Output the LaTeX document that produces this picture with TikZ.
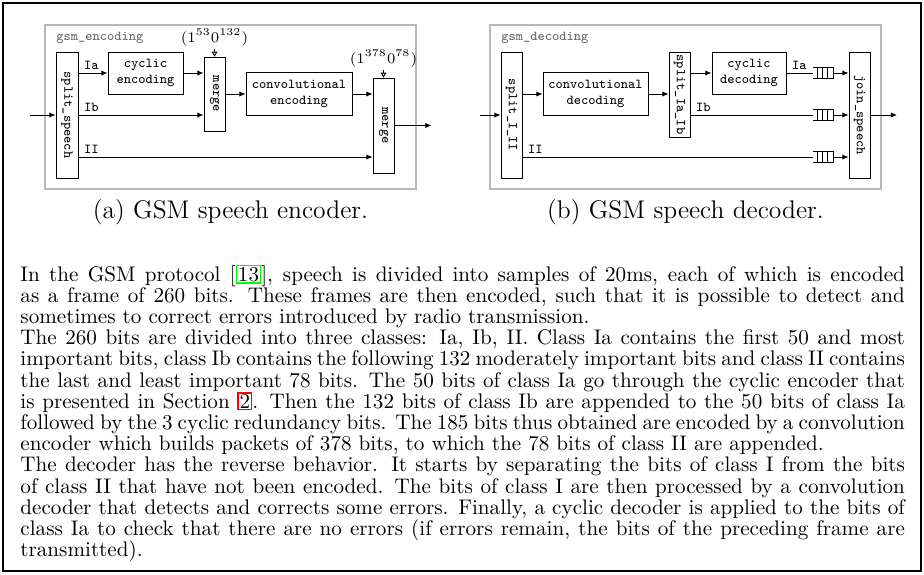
\documentclass[tikz,border=0pt]{standalone}
\usepackage{xcolor}
\usepackage{graphicx}
\usepackage{tikz}
\usetikzlibrary{calc,arrows.meta}

\newcommand\pxu{0.4545pt}
\newcommand\linkfr[2]{{\fboxsep=0.3pt\fboxrule=0.7pt\fcolorbox{#1}{white}{#2}}}

\tikzset{
  blk/.style={draw, inner sep=1pt, align=center, font=\fontsize{6.2}{7.4}\ttfamily},
  flow/.style={-{Latex[length=2.8pt,width=2.4pt]}},
  hint/.style={-{Triangle[open,length=2.2pt,width=2.6pt]}},
  lbl/.style={above right, inner sep=1.2pt, xshift=1.2pt, font=\fontsize{6.2}{7.4}\ttfamily},
  ann/.style={inner sep=1pt, font=\fontsize{6.7}{8}\selectfont},
  frm/.style={draw=black!28, line width=0.5pt, inner sep=0pt},
  frmlbl/.style={anchor=west, inner sep=0pt, text=black!60, font=\fontsize{6.2}{7.4}\ttfamily},
  subcap/.style={anchor=base, inner sep=0pt, font=\fontsize{11.6}{13.5}\selectfont},
  queue/.style={minimum width=20*\pxu, minimum height=10*\pxu, inner sep=0pt},
}

\begin{document}
\begin{tikzpicture}[x=\pxu,y=-\pxu]
  \useasboundingbox (0,0) rectangle (924,574);
  \draw[line width=1.1pt] (3,3) rectangle (921,571);

  % (a) encoder
  \node[frm, minimum width=371*\pxu, minimum height=164*\pxu] (frA) at (230.5,107) {};
  \node[frmlbl] (lblA) at (56,38) {gsm\_encoding};
  \node[blk, minimum width=22*\pxu, minimum height=126*\pxu] (splitS) at (67,115) {\rotatebox{-90}{split\_speech}};
  \node[blk, minimum width=75*\pxu, minimum height=42*\pxu] (cycE) at (145.5,73) {cyclic\\encoding};
  \node[blk, minimum width=21*\pxu, minimum height=74*\pxu] (merA) at (214.5,94) {\rotatebox{-90}{merge}};
  \node[blk, minimum width=106*\pxu, minimum height=43*\pxu] (convE) at (299,94) {convolutional\\encoding};
  \node[blk, minimum width=21*\pxu, minimum height=95*\pxu] (merB) at (383.5,125.5) {\rotatebox{-90}{merge}};
  \node[ann] (annA) at (214.5,37.5) {(1\textsuperscript{53}0\textsuperscript{132})};
  \node[ann] (annB) at (383.5,58.5) {(1\textsuperscript{378}0\textsuperscript{78})};
  \coordinate (inE) at (30,115);
  \coordinate (outE) at ($(merB.east)+(37,0)$);
  \coordinate (rowII) at (0,157);

  \draw[flow] (inE) -- (inE -| splitS.west);
  \draw[flow] (splitS.east |- cycE.west) -- node[lbl, pos=0] {Ia} (cycE.west);
  \draw[flow] (cycE.east) -- (cycE.east -| merA.west);
  \draw[flow] (splitS.east) -- node[lbl, pos=0] {Ib} (splitS.east -| merA.west);
  \draw[flow] (merA.east) -- (convE.west);
  \draw[flow] (convE.east) -- (convE.east -| merB.west);
  \draw[flow] (splitS.east |- rowII) -- node[lbl, pos=0] {II} (merB.west |- rowII);
  \draw[flow] (merB.east) -- (outE);
  \draw[hint] (annA.south) -- (merA.north);
  \draw[hint] (annB.south) -- (merB.north);

  % (b) decoder
  \node[frm, minimum width=391*\pxu, minimum height=164*\pxu] (frB) at (685.5,107) {};
  \node[frmlbl] (lblB) at (501,38) {gsm\_decoding};
  \node[blk, minimum width=21*\pxu, minimum height=126*\pxu] (splitD) at (511.5,115) {\rotatebox{-90}{split\_I\_II}};
  \node[blk, minimum width=105*\pxu, minimum height=43*\pxu] (convD) at (595.5,94) {convolutional\\decoding};
  \node[blk, minimum width=21*\pxu, minimum height=85*\pxu] (splitIa) at (679.5,94.5) {\rotatebox{-90}{split\_Ia\_Ib}};
  \node[blk, minimum width=74*\pxu, minimum height=42*\pxu] (cycD) at (749,73) {cyclic\\decoding};
  \node[blk, minimum width=21*\pxu, minimum height=126*\pxu] (join) at (859.5,115) {\rotatebox{-90}{join\_speech}};
  \node[queue] (qIa) at (823,73) {};
  \node[queue] (qIb) at (823,115) {};
  \node[queue] (qII) at (823,157) {};
  \coordinate (inD) at (480,115);
  \coordinate (outD) at (897,115);

  \foreach \q in {qIa,qIb,qII} {
    \draw (\q.north west) -- (\q.north east) -- (\q.south east) -- (\q.south west);
    \foreach \f in {0.25,0.47,0.7}
      \draw ($(\q.north west)!\f!(\q.north east)$) -- ($(\q.south west)!\f!(\q.south east)$);
  }

  \draw[flow] (inD) -- (inD -| splitD.west);
  \draw[flow] (splitD.east |- convD.west) -- (convD.west);
  \draw[flow] (convD.east) -- (convD.east -| splitIa.west);
  \draw[flow] (splitIa.east |- cycD.west) -- (cycD.west);
  \draw (cycD.east) -- node[lbl, pos=0] {Ia} (qIa.west);
  \draw (splitIa.east |- qIb.west) -- node[lbl, pos=0] {Ib} (qIb.west);
  \draw (splitD.east |- qII.west) -- node[lbl, pos=0] {II} (qII.west);
  \foreach \q in {qIa,qIb,qII}
    \draw[flow] (\q.east) -- (\q.east -| join.west);
  \draw[flow] (join.east) -- (outD);

  % captions and text
  \node[subcap] (capA) at (230.5,218) {(a) GSM speech encoder.};
  \node[subcap] (capB) at (685.5,218) {(b) GSM speech decoder.};
  \node[anchor=base west, inner sep=0pt] (body) at (20,281) {\parbox[t]{402pt}{\fontsize{9.6}{9.64}\selectfont
    In the GSM protocol [\linkfr{green}{13}], speech is divided into samples of 20ms, each of which is encoded\linebreak
    as a frame of 260 bits. These frames are then encoded, such that it is possible to detect and\linebreak
    sometimes to correct errors introduced by radio transmission.\par
    The 260 bits are divided into three classes: Ia, Ib, II. Class Ia contains the first 50 and most\linebreak
    important bits, class Ib contains the following 132 moderately important bits and class II contains\linebreak
    the last and least important 78 bits. The 50 bits of class Ia go through the cyclic encoder that\linebreak
    is presented in Section \linkfr{red}{2}. Then the 132 bits of class Ib are appended to the 50 bits of class Ia\linebreak
    followed by the 3 cyclic redundancy bits. The 185 bits thus obtained are encoded by a convolution\linebreak
    encoder which builds packets of 378 bits, to which the 78 bits of class II are appended.\par
    The decoder has the reverse behavior. It starts by separating the bits of class I from the bits\linebreak
    of class II that have not been encoded. The bits of class I are then processed by a convolution\linebreak
    decoder that detects and corrects some errors. Finally, a cyclic decoder is applied to the bits of\linebreak
    class Ia to check that there are no errors (if errors remain, the bits of the preceding frame are\linebreak
    transmitted).}};
\end{tikzpicture}
\end{document}
